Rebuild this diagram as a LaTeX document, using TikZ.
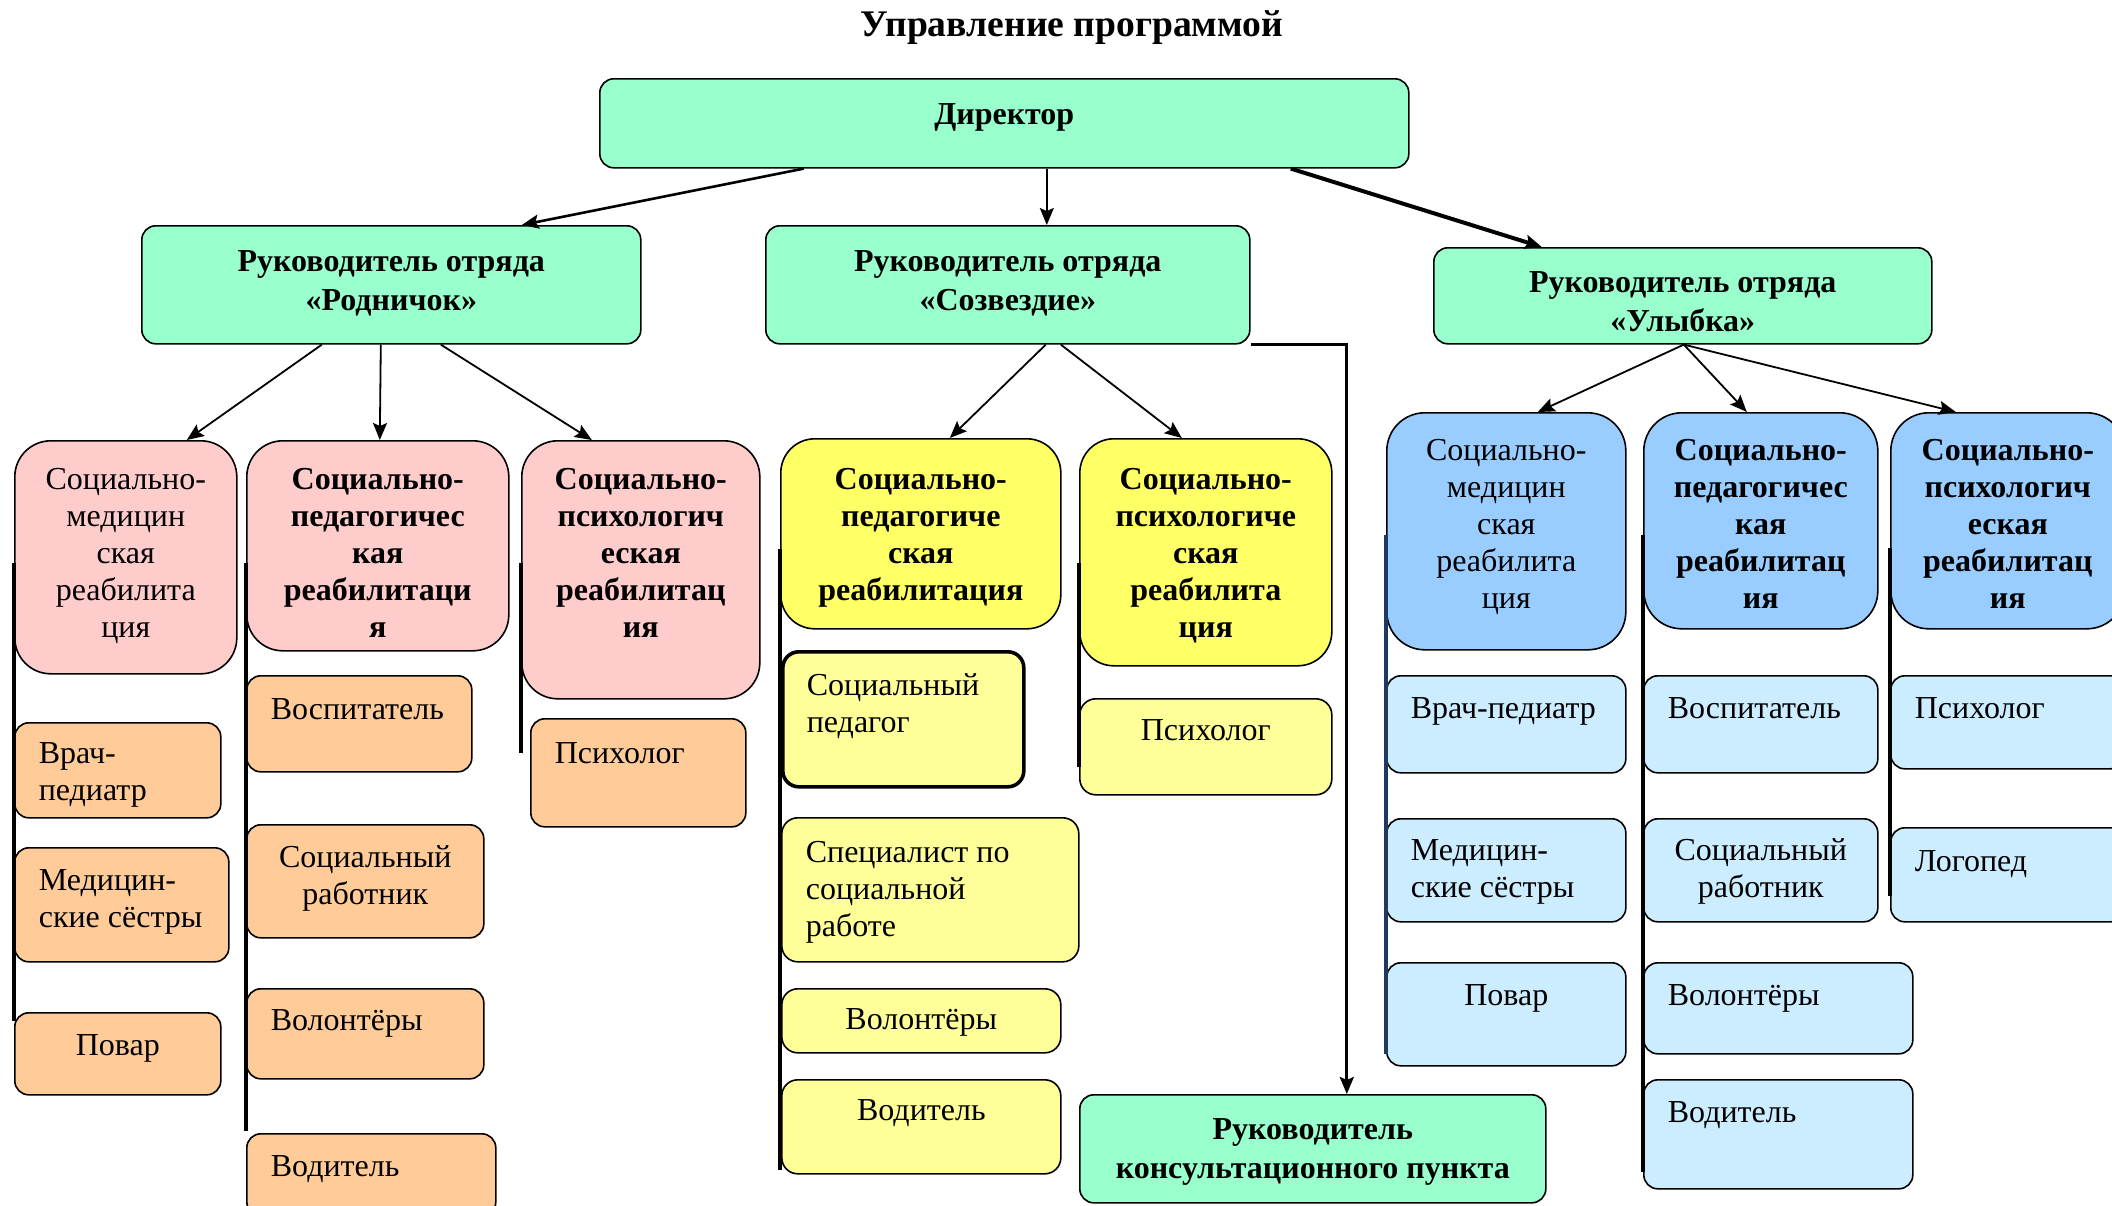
\documentclass[tikz,border=0pt]{standalone}
\usepackage{fontspec}
\setmainfont{Liberation Serif}
\usetikzlibrary{arrows.meta,calc}
\definecolor{cgreen}{HTML}{99FFCC}
\definecolor{cpink}{HTML}{FFCCCC}
\definecolor{corange}{HTML}{FFCC99}
\definecolor{cyel}{HTML}{FFFF66}
\definecolor{clyel}{HTML}{FFFF99}
\definecolor{cblue}{HTML}{99CCFF}
\definecolor{clblue}{HTML}{CCECFF}
\definecolor{cnavy}{HTML}{1F3A60}
\newlength\pxu \setlength\pxu{0.5pt}
% style, name, x1, y1, x2, y2, content
\newcommand\bx[7]{%
  \pgfmathsetlengthmacro\bxw{(#5-#3)*0.5}%
  \pgfmathsetlengthmacro\bxh{(#6-#4)*0.5}%
  \node[#1, anchor=north west, inner sep=0pt, minimum width=\bxw, minimum height=\bxh] (#2) at (#3,#4)
    {\begin{minipage}[t][\bxh][t]{\bxw}#7\end{minipage}};}
\newcommand\ctr[2]{\centering\vspace*{#1\pxu}\strut #2\par}
\newcommand\lft[2]{\raggedright\leftskip=24\pxu\vspace*{#1\pxu}\strut #2\par}
\tikzset{
  base/.style={draw=black, line width=0.8pt, font=\fontsize{16}{18.5}\selectfont},
  head/.style={base, fill=cgreen, rounded corners=7pt, font=\bfseries\fontsize{16}{19.5}\selectfont},
  pinkh/.style={base, fill=cpink, rounded corners=18pt},
  orng/.style={base, fill=corange, rounded corners=7pt},
  yelh/.style={base, fill=cyel, rounded corners=17pt},
  lyel/.style={base, fill=clyel, rounded corners=8pt},
  blueh/.style={base, fill=cblue, rounded corners=19pt},
  lblue/.style={base, fill=clblue, rounded corners=7pt},
  bld/.style={font=\bfseries\fontsize{16}{18.5}\selectfont},
  arr/.style={-{Stealth[length=8.5pt,width=7pt,inset=1.5pt]}, line width=0.9pt},
  bar/.style={line width=1.6pt},
}
\begin{document}
\begin{tikzpicture}[x=0.5pt,y=-0.5pt]
\useasboundingbox (0,0) rectangle (2112,1205);
\clip (0,0) rectangle (2112,1205);

\node[font=\bfseries\fontsize{18.8}{21}\selectfont] (title) at (1072,28) {Управление программой};

% top level
\bx{head}{dir}{599}{78}{1408}{167}{\ctr{18}{Директор}}
\bx{head}{rod}{141}{225}{640}{343}{\ctr{18}{Руководитель отряда\\«Родничок»}}
\bx{head}{soz}{765}{225}{1249}{343}{\ctr{18}{Руководитель отряда\\«Созвездие»}}
\bx{head}{uly}{1433}{247}{1931}{343}{\ctr{17}{Руководитель отряда\\«Улыбка»}}
\bx{head}{kons}{1079}{1094}{1545}{1202}{\ctr{17}{Руководитель\\консультационного пункта}}

% Rodnichok
\bx{pinkh}{p1}{14}{440}{236}{673}{\ctr{23}{Социально-\\медицин\\ская\\реабилита\\ция}}
\bx{pinkh,bld}{p2}{246}{440}{508}{650}{\ctr{23}{Социально-\\педагогичес\\кая\\реабилитаци\\я}}
\bx{pinkh,bld}{p3}{521}{440}{759}{698}{\ctr{23}{Социально-\\психологич\\еская\\реабилитац\\ия}}
\bx{orng}{o1}{14}{722}{220}{817}{\lft{15}{Врач-\\педиатр}}
\bx{orng}{o2}{14}{847}{228}{961}{\lft{17}{Медицин-\\ские сёстры}}
\bx{orng}{o3}{14}{1012}{220}{1094}{\ctr{17}{Повар}}
\bx{orng}{o4}{246}{675}{471}{771}{\lft{18}{Воспитатель}}
\bx{orng}{o5}{246}{824}{483}{937}{\ctr{17}{Социальный\\работник}}
\bx{orng}{o6}{246}{988}{483}{1078}{\lft{16}{Волонтёры}}
\bx{orng}{o7}{246}{1133}{495}{1215}{\lft{17}{Водитель}}
\bx{orng}{o8}{530}{718}{745}{826}{\lft{19}{Психолог}}

% Sozvezdie
\bx{yelh,bld}{y1}{780}{438}{1060}{628}{\ctr{25}{Социально-\\педагогиче\\ская\\реабилитация}}
\bx{yelh,bld}{y2}{1079}{438}{1331}{665}{\ctr{25}{Социально-\\психологиче\\ская\\реабилита\\ция}}
\bx{lyel,line width=1.8pt}{y3}{781}{650}{1022}{785}{\lft{18}{Социальный\\педагог}}
\bx{lyel}{y4}{781}{817}{1078}{961}{\lft{19}{Специалист по\\социальной\\работе}}
\bx{lyel}{y5}{781}{988}{1060}{1052}{\ctr{15}{Волонтёры}}
\bx{lyel}{y6}{781}{1079}{1060}{1173}{\ctr{15}{Водитель}}
\bx{lyel}{y7}{1079}{698}{1331}{794}{\ctr{16}{Психолог}}

% Ulybka
\bx{blueh}{b1}{1386}{412}{1625}{649}{\ctr{22}{Социально-\\медицин\\ская\\реабилита\\ция}}
\bx{blueh,bld}{b2}{1643}{412}{1877}{628}{\ctr{22}{Социально-\\педагогичес\\кая\\реабилитац\\ия}}
\bx{blueh,bld}{b3}{1890}{412}{2124}{628}{\ctr{22}{Социально-\\психологич\\еская\\реабилитац\\ия}}
\bx{lblue}{b4}{1386}{675}{1625}{772}{\lft{17}{Врач-педиатр}}
\bx{lblue}{b5}{1386}{818}{1625}{921}{\lft{16}{Медицин-\\ские сёстры}}
\bx{lblue}{b6}{1386}{962}{1625}{1065}{\ctr{17}{Повар}}
\bx{lblue}{b7}{1643}{675}{1877}{772}{\lft{17}{Воспитатель}}
\bx{lblue}{b8}{1643}{818}{1877}{921}{\ctr{16}{Социальный\\работник}}
\bx{lblue}{b9}{1643}{962}{1912}{1053}{\lft{17}{Волонтёры}}
\bx{lblue}{b10}{1643}{1079}{1912}{1188}{\lft{17}{Водитель}}
\bx{lblue}{b11}{1890}{675}{2124}{768}{\lft{17}{Психолог}}
\bx{lblue}{b12}{1890}{827}{2124}{921}{\lft{18}{Логопед}}

% director arrows
\draw[arr, line width=1.3pt] ($(dir.south)+(-200.5,0)$) -- ($(rod.north)+(130.5,0)$);
\draw[arr] ($(dir.south)+(42.5,0)$) -- ($(soz.north)+(39,0)$);
\draw[arr, line width=2pt] ($(dir.south)+(286.5,0)$) -- ($(uly.north)+(-141,0)$);

% Rodnichok arrows
\draw[arr] ($(rod.south)+(-69.5,0)$) -- ($(p1.north)+(61,0)$);
\draw[arr] ($(rod.south)+(-10.5,0)$) -- ($(p2.north)+(2,0)$);
\draw[arr] ($(rod.south)+(49.5,0)$) -- ($(p3.north)+(-49,0)$);

% Sozvezdie arrows
\draw[arr] ($(soz.south)+(38,0)$) -- ($(y1.north)+(29,0)$);
\draw[arr] ($(soz.south)+(53,0)$) -- ($(y2.north)+(-24,0)$);
\draw[arr, line width=1.5pt] (soz.south east) -| ($(kons.north)+(34,0)$);

% Ulybka arrows
\draw[arr] ($(uly.south)+(1,0)$) -- ($(b1.north)+(31.5,0)$);
\draw[arr] ($(uly.south)+(1,0)$) -- ($(b2.north)+(-14,0)$);
\draw[arr] ($(uly.south)+(1,0)$) -- ($(b3.north)+(-52,0)$);

% column bars
\draw[bar] (p1.west |- 0,563) -- (p1.west |- 0,1021);
\draw[bar] (p2.west |- 0,563) -- (p2.west |- 0,1131);
\draw[bar] (p3.west |- 0,563) -- (p3.west |- 0,753);
\draw[bar] (y1.west |- 0,549) -- (y1.west |- 0,1170);
\draw[bar] (y2.west |- 0,563) -- (y2.west |- 0,767);
\draw[bar, draw=cnavy] (b1.west |- 0,535) -- (b1.west |- 0,1054);
\draw[bar] (b2.west |- 0,535) -- (b2.west |- 0,1172);
\draw[bar] (b3.west |- 0,548) -- (b3.west |- 0,896);
\end{tikzpicture}
\end{document}
